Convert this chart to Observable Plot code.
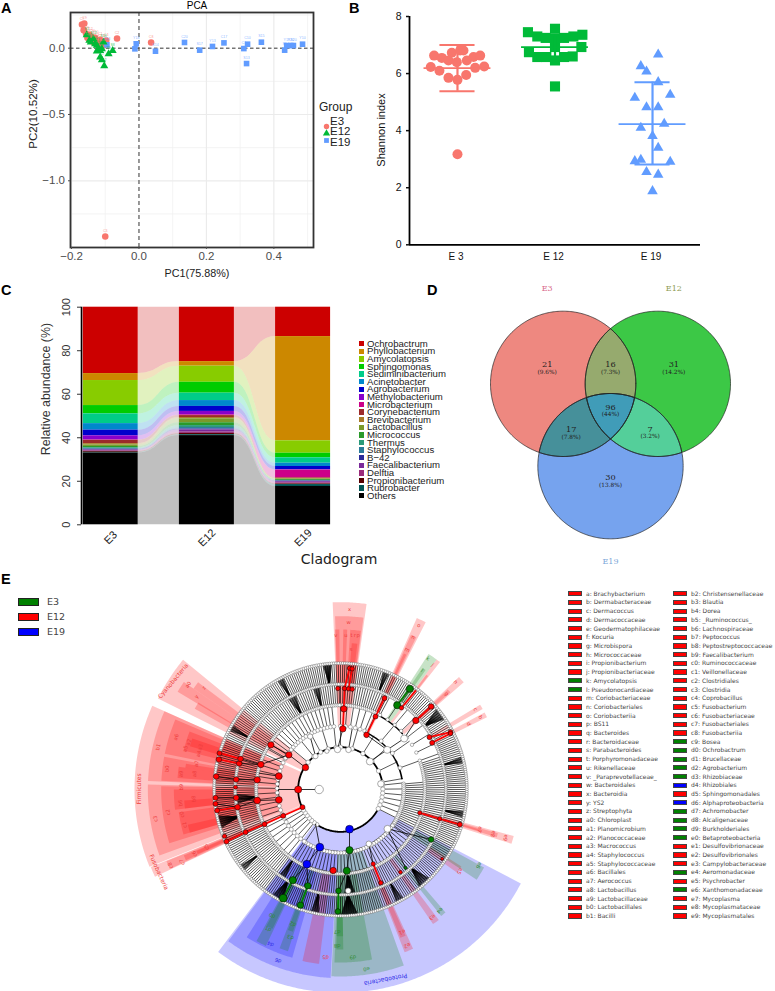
<!DOCTYPE html>
<html><head><meta charset="utf-8">
<script src="https://cdn.jsdelivr.net/npm/d3@7"></script>
<script src="https://cdn.jsdelivr.net/npm/@observablehq/plot@0.6"></script>
<style>
html,body{margin:0;padding:0;background:#fff}
#page{position:relative;width:775px;height:991px;overflow:hidden;background:#fff;font-family:"Liberation Sans",sans-serif}
#page svg{position:absolute;background:transparent;max-width:none}
.t{position:absolute;white-space:nowrap;line-height:1}
.s{position:absolute;box-sizing:border-box}
</style></head><body><div id="page"></div>
<script>
// ---------- Panel A: PCA ----------
const groupNames=["E3","E12","E19"];
const groupColors=["#f8766d","#00ba38","#619cff"];
const groupSymbols=["circle","triangle","square"];
const pcaE3X=[-.169,-.162,-.164,-.147,-.153,-.143,-.135,-.115,-.097,-.065,.036,-.100,-.125,-.118,-.110,-.147,-.105,-.157,-.140,-.130];
const pcaE3Y=[.178,.186,.136,.100,.078,.058,.045,.063,.058,.073,.043,-1.420,.058,.028,.045,.063,.020,.108,.083,.078];
const pcaE3L=["C7","C9","C11","C12","C13","C14","C15","C1","C4","C2","C8","C3","C5","C6","C16","C17","C18","C19","C20","C10"];
const pcaE12X=[-.155,-.143,-.130,-.125,-.120,-.115,-.110,-.103,-.090,-.078,-.110,-.135,-.125,-.115,-.147,-.105];
const pcaE12Y=[.100,.045,.033,-.023,-.005,-.068,-.088,-.133,-.043,-.018,-.005,.070,.020,-.018,.058,.045];
const pcaE12L=["S1","S2","S3","S4","S5","S6","S7","S2","S9","S8","S11","S12","S13","S14","S15","S16"];
const pcaE19X=[-.095,-.008,-.012,.049,.135,.180,.218,.252,.311,.322,.319,.363,.432,.438,.450,.458,.485];
const pcaE19Y=[.025,.033,-.005,-.023,.043,-.015,.013,.040,-.003,.030,-.116,.045,-.015,.020,.020,.020,.030];
const pcaE19L=["C18","Y18","Y9","S14","C20","S17","Y13","C17","C1","C10","S13","S15","S9","Y19","Y20","S20","Y10"];
// ---------- Panel B: Shannon index ----------
const categories=["E 3","E 12","E 19"];
const shE3Off=[-70,-47,-17,8,18,48,68,-27,-2,28,-80,-54,53,80,-27,0,26,0];
const shE3=[6.63,6.55,6.73,6.81,6.81,6.58,6.63,6.46,6.40,6.46,6.23,6.10,6.20,6.25,5.85,5.78,5.95,3.17];
const shE12Off=[-81,-53,-28,0,27,55,82,0,-78,-53,-26,0,27,53,79,0,0];
const shE12=[7.45,7.30,7.25,7.57,7.25,7.30,7.36,7.22,6.75,6.58,6.58,6.46,6.58,6.60,6.93,6.93,5.55];
const shE19Off=[17,-35,-18,17,-53,53,-18,17,-35,35,0,17,-53,-35,53,-18,17,0];
const shE19=[6.67,6.26,6.07,5.70,5.15,5.26,4.82,4.82,4.10,4.24,3.81,3.40,2.93,2.98,2.91,2.55,2.46,1.88];
const shMean=[6.19,6.93,4.23], shHigh=[7.0,7.34,5.70], shLow=[5.38,6.52,2.81];
// ---------- Panel C: relative abundance ----------
const samples=["E3","E12","E19"];
const genera=["Ochrobactrum","Phyllobacterium","Amycolatopsis","Sphingomonas","Sediminibacterium","Acinetobacter","Agrobacterium","Methylobacterium","Microbacterium","Corynebacterium","Brevibacterium","Lactobacillus","Micrococcus","Thermus","Staphylococcus","B−42","Faecalibacterium","Delftia","Propionibacterium","Rubrobacter","Others"];
const generaColors=["#cc0000","#cc8800","#88cc00","#00cc00","#00cc88","#0088cc","#0000cc","#8800cc","#cc0088","#9c2a2a","#a87a28","#7a9a2a","#2a9a2a","#2a9a7a","#2a7a9a","#2a2a9a","#7a2a9a","#9a2a7a","#550000","#005555","#000000"];
const abundE3=[30.5,3.2,11.5,3.8,4.5,3.0,2.6,1.9,.2,1.5,.6,.7,.6,.4,.3,.3,.4,.3,.4,.3,33.0];
const abundE12=[25,2.1,7.4,5,3.4,2.7,2.3,1.6,.3,.9,.6,1.8,1.3,.9,.7,.4,1.0,.6,.6,.4,41];
const abundE19=[13.5,47.9,5.7,2.1,2.5,1.5,1.5,.2,3.5,.3,.3,.2,.4,.2,.1,.3,.5,.5,.3,.9,17.6];
// ---------- Panel D: Venn ----------
const vennSets=["E3","E12","E19"];
const vennCounts=["21","16","31","96","17","7","30"];
const vennShares=["(9.6%)","(7.3%)","(14.2%)","(44%)","(7.8%)","(3.2%)","(13.8%)"];
// ---------- Panel E: cladogram legend ----------
const cladeLegendA=["a: Brachybacterium","b: Dermabacteraceae","c: Dermacoccus","d: Dermacoccaceae","e: Geodermatophilaceae","f: Kocuria","g: Microbispora","h: Micrococcaceae","i: Propionibacterium","j: Propionibacteriaceae","k: Amycolatopsis","l: Pseudonocardiaceae","m: Coriobacteriaceae","n: Coriobacteriales","o: Coriobacteriia","p: BS11","q: Bacteroides","r: Bacteroidaceae","s: Parabacteroides","t: Porphyromonadaceae","u: Rikenellaceae","v: _Paraprevotellaceae_","w: Bacteroidales","x: Bacteroidia","y: YS2","z: Streptophyta","a0: Chloroplast","a1: Planomicrobium","a2: Planococcaceae","a3: Macrococcus","a4: Staphylococcus","a5: Staphylococcaceae","a6: Bacillales","a7: Aerococcus","a8: Lactobacillus","a9: Lactobacillaceae","b0: Lactobacillales","b1: Bacilli"];
const cladeLegendB=["b2: Christensenellaceae","b3: Blautia","b4: Dorea","b5: _Ruminococcus_","b6: Lachnospiraceae","b7: Peptococcus","b8: Peptostreptococcaceae","b9: Faecalibacterium","c0: Ruminococcaceae","c1: Veillonellaceae","c2: Clostridiales","c3: Clostridia","c4: Coprobacillus","c5: Fusobacterium","c6: Fusobacteriaceae","c7: Fusobacteriales","c8: Fusobacteriia","c9: Bosea","d0: Ochrobactrum","d1: Brucellaceae","d2: Agrobacterium","d3: Rhizobiaceae","d4: Rhizobiales","d5: Sphingomonadales","d6: Alphaproteobacteria","d7: Achromobacter","d8: Alcaligenaceae","d9: Burkholderiales","e0: Betaproteobacteria","e1: Desulfovibrionaceae","e2: Desulfovibrionales","e3: Campylobacteraceae","e4: Aeromonadaceae","e5: Psychrobacter","e6: Xanthomonadaceae","e7: Mycoplasma","e8: Mycoplasmataceae","e9: Mycoplasmatales"];
const cladeGreen=new Set(["k","l","c9","d0","d1","d2","d3","d7","d8","d9","e0","e4","e6"]);
const cladeBlue=new Set(["d4","d6"]);
// wedges: name, angle from, angle to, inner radius, outer radius, class (g=green,r=red,b=blue)
const wedges=[
["Proteobacteria",117.5,217,127,610,"b"],["Alphaproteobacteria",183,216.5,190,566,"b"],["Rhizobiales",196,212.4,253,525,"b"],["Sphingomonadales",187,192.5,253,527,"r"],["Betaproteobacteria",160.2,182.8,190,561,"g"],["Burkholderiales",169.5,182,253,519,"g"],["d8",179,181.5,253,480,"g"],["d7",179,181.5,316,440,"g"],["d0",205.5,209,253,520,"g"],["d1",206,208.5,316,465,"g"],["d3",198,201,253,510,"g"],["d2",198.5,200.5,316,450,"g"],["e2",155.5,158.5,253,525,"r"],["e1",156,158,316,480,"r"],["e3",143,145.5,253,490,"r"],["e4",139.5,141.5,253,485,"g"],["e5",122.5,125.5,316,430,"r"],["e6",118.5,123.5,253,490,"g"],
["Firmicutes",248,294,127,618,"r"],["Bacilli",272.5,294,190,578,"r"],["Clostridia",250,271.5,190,578,"r"],["a6",281.5,293,253,538,"r"],["b0",272.8,280.5,253,538,"r"],["c2",252.6,271,253,538,"r"],["a5",284,291,316,485,"r"],["a3",286,289,379,470,"r"],["a9",274,278,316,490,"r"],["a7",278,279.5,316,470,"r"],["b6",263,270,316,500,"r"],["b8",263,266,379,470,"r"],["c0",254,262,316,490,"r"],["c1",254,257,379,470,"r"],
["Cyanobacteria",296.5,309.5,127,612,"r"],["a0",301,304.5,190,570,"r"],["z",304.5,307,253,535,"r"],["y",299,301.5,253,500,"r"],
["x",-2.4,8,190,562,"r"],["w",-1.8,7.6,253,520,"r"],["v",-2,-.4,316,480,"r"],["u",1,2.4,316,480,"r"],["t",3.5,7.3,316,480,"r"],["s",4.4,6.6,316,440,"r"],
["o",24,27,190,563,"r"],["n",24.5,26.5,253,510,"r"],["m",25,26,316,450,"r"],
["l",33,36.5,253,485,"g"],["k",34,35.5,316,440,"g"],["j",36.5,38,253,485,"r"],["i",36.8,37.7,316,430,"r"],
["h",46.5,49,253,490,"r"],["g",47,48.5,316,440,"r"],["d",58.7,60.5,316,490,"r"],["c",61.9,63.7,316,490,"r"],
["c8",244.8,247.8,127,615,"r"],["c7",245,247.6,190,565,"r"],["c6",245.4,247.2,253,510,"r"],["c5",245.7,246.9,316,470,"r"],
["e9",105,107.6,253,538,"r"],["e8",105.5,107,316,490,"r"],["e7",106,106.7,379,440,"r"]];
// wedge labels: text, x, y, rotation, class
const wedgeLabels=[["Firmicutes",57,595,-90,"r"],["Cyanobacteria",158,272,-50,"r"],["Fusobacteria",115,845,66,"r"],["Proteobacteria",795,1167,169,"b"],
["x",687,55,0,"r"],["w",684,95,0,"r"],["v",646,133,0,"r"],["u",676,133,0,"r"],["t",693,133,0,"r"],["r",703,133,0,"r"],["p",713,133,0,"r"],["s",692,175,0,"r"],
["o",895,105,25,"r"],["n",878,140,25,"r"],["m",860,178,25,"r"],["l",905,240,35,"g"],["k",922,205,35,"g"],["j",937,222,37,"r"],["h",1005,275,47,"r"],["g",978,310,47,"r"],["c",1065,357,60,"r"],["b",1080,380,62,"r"],["d",1045,400,62,"r"],
["e9",1155,742,106,"r"],["e8",1118,730,106,"r"],["e7",1078,717,106,"r"],["e6",1075,825,120,"g"],["e5",1018,842,124,"r"],["e4",958,960,141,"g"],["e3",935,980,144,"r"],["e2",860,1065,157,"r"],["e1",845,1025,157,"r"],
["e0",738,1135,172,"g"],["d9",697,1100,175,"g"],["d8",650,1065,180,"g"],["d7",650,1025,180,"g"],["d5",615,1100,185,"r"],["d6",473,1110,200,"b"],["d4",450,1060,205,"b"],["d3",510,1040,200,"g"],["d2",517,1000,200,"g"],["d1",443,1015,207,"g"],["d0",455,975,207,"g"],
["b1",113,470,285,"r"],["b0",140,535,276,"r"],["c3",105,685,260,"r"],["c2",143,665,262,"r"],["a6",167,440,288,"r"],["a9",182,550,274,"r"],["a8",222,550,274,"r"],["a7",228,520,278,"r"],["b9",182,590,270,"r"],["b6",180,638,265,"r"],["b8",220,625,265,"r"],["c0",185,672,262,"r"],["c1",193,703,258,"r"],["c5",258,770,247,"r"],["c6",222,790,247,"r"],["c7",185,815,247,"r"],["c8",150,825,247,"r"],["a5",195,475,285,"r"],["a2",205,455,285,"r"],["a3",240,470,285,"r"],["a4",235,490,285,"r"],["a0",203,283,305,"r"],["y",228,318,305,"r"],["z",250,292,305,"r"]];
// enriched clades: x, y, size, class
const cladeNodes=[[533,597,3.6,"r"],[475,557,3.4,"r"],[475,628,3.4,"r"],[410,568,3.2,"r"],[410,630,3.4,"r"],[421,522,3.2,"r"],[505,493,3.2,"r"],[555,531,3.2,"r"],[451,463,3.2,"r"],[347,567,2.8,"r"],[347,622,2.8,"r"],[351,650,2.8,"r"],[345,590,2,"r"],[356,519,2.8,"r"],[360,505,2.8,"r"],[295,507,2.8,"r"],[297,488,2.5,"r"],[287,558,2.8,"r"],[285,622,2.5,"r"],[285,640,2.5,"r"],[290,660,2.5,"r"],[546,650,2.5,"r"],[488,676,2.5,"r"],[432,701,2.5,"r"],[375,725,2.5,"r"],[318,753,2.5,"r"],[312,737,2.2,"r"],[667,415,3.2,"r"],[670,355,3.2,"r"],[652,294,2.2,"r"],[672,294,2.2,"r"],[684,295,2.2,"r"],[695,296,2.2,"r"],[687,233,2.2,"r"],[695,235,2.2,"r"],[738,433,2.8,"r"],[765,378,2.5,"r"],[792,323,2.5,"r"],[843,352,2.2,"r"],[886,390,3.2,"r"],[932,348,2.8,"r"],[927,440,2.5,"r"],[990,425,2.5,"r"],[935,457,2.5,"r"],[990,429,2.2,"r"],[898,667,2.2,"r"],[958,685,2.2,"r"],[1018,702,2.5,"r"],[758,820,2.2,"r"],[781,877,2.2,"r"],[840,845,1.8,"r"],[965,805,1.5,"r"],[638,840,3.2,"r"],
[830,344,3.6,"g"],[868,295,3.6,"g"],[687,779,3.6,"g"],[679,841,3.6,"g"],[654,901,2.8,"g"],[652,963,2.8,"g"],[517,869,3.6,"g"],[488,923,3.9,"g"],[562,886,3.2,"g"],[540,944,3.2,"g"],[932,747,2.8,"g"],[855,832,1.6,"g"],
[687,716,3.9,"b"],[598,770,3.9,"b"],[559,821,3.9,"b"]];
const plainNodes=[[596,597,4.2],[651,477,3.2],[684,478,2.8],[748,513,3.5],[800,478,3.5],[851,444,3.5],[781,580,3.2],[801,715,3.5],[745,760,2.8],[683,901,2.8],[569,438,2.6],[585,497,2.6],[619,482,2.2]];
// coloured and thin branches: x1, y1, x2, y2, class
const cladeLinks=[[546,650,488,676,"r"],[488,676,432,701,"r"],[432,701,375,725,"r"],[375,725,318,753,"r"],[667,415,670,355,"r"],[670,355,672,294,"r"],[672,294,687,233,"r"],[684,295,695,235,"r"],[738,433,765,378,"r"],[765,378,792,323,"r"],[898,667,958,685,"r"],[958,685,1018,702,"r"],[758,820,781,877,"r"],[843,352,886,300,"r"],[886,390,932,348,"r"],[927,440,990,425,"r"],[935,457,990,429,"r"],[356,519,295,507,"r"],[360,505,297,488,"r"],[351,650,290,660,"r"],[830,344,868,295,"g"],[654,901,652,963,"g"],[517,869,488,923,"g"],[562,886,540,944,"g"],
[596,597,533,597,"k"],[534,597,473,597,"k"],[475,557,415,548,"k"],[475,628,411,630,"k"],[421,522,505,493,"k"],[505,493,555,531,"k"],[451,463,505,493,"k"],[410,568,345,567,"k"],[410,630,347,622,"k"],[410,630,351,650,"k"],[421,522,356,519,"k"],[421,522,360,505,"k"],[347,567,287,558,"k"],[347,622,285,622,"k"],[351,650,285,640,"k"],[687,716,687,779,"k"],[598,770,559,821,"k"],[687,779,679,841,"k"],[679,841,654,901,"k"],[559,821,517,869,"k"],[559,821,562,886,"k"],[745,760,758,820,"k"],[801,715,855,832,"k"],[801,715,932,747,"k"],[598,770,585,700,"k"],[748,513,800,478,"k"],[800,478,851,444,"k"],[851,444,886,390,"k"],[800,478,738,433,"k"],[651,477,667,415,"k"],[684,478,695,415,"k"],[585,497,569,438,"k"]];
// heavy ring arcs: ring radius, angle from, angle to, width
const cladeArcs=[[127,245,405,1.8],[127,405,440,1.8],[127,119,214,1.8],[187,263,282,1.6],[187,62,80,1.6],[187,25,62,1.4],[187,160,200,1.8],[187,120,150,1.8],[250,160,205,1.8],[250,28,48,1.4]];
// background branches per ring band: angle from, angle to, spacing
const bandOuter=[[0,360,1]];
const bandMiddle=[[0,28,1.4],[28,72,6],[72,360,1.3]];
const bandInner=[[0,25,4.5],[25,85,15],[85,125,1.7],[125,215,2.6],[215,300,4],[300,355,3]];
const bandCore=[[84,118,5.5],[214,245,4.5],[310,360,11],[0,84,16]];
// crowded sister clades, drawn as fans from one parent: angle from, angle to, spacing
const fansOuter=[[352,356,.3],[50,56,.35],[172,180,.3],[252,258,.35],[135,141,.35],[207,213,.35],[298,301,.4],[150,154,.4],[190,194,.4],[20,23,.4],[330,333,.4],[75,78,.4],[100,103,.4],[230,233,.4]];
const fansMiddle=[[172,178,.35],[212,216,.4],[330,335,.5],[345,349,.5],[262,268,.5]];

// ---------- helpers ----------
const page=document.getElementById("page");
function put(svg,left,top){svg.style.left=left+"px";svg.style.top=top+"px";page.append(svg);}
function note(text,x,y,o={}){const d=document.createElement("div");d.className="t";d.textContent=text;
  d.style.cssText=`left:${x}px;top:${y}px;font-size:${o.size||11}px;color:${o.color||"#000"};font-family:${o.family||"'Liberation Sans',sans-serif"};font-weight:${o.weight||400};transform:translate(${o.ax??-50}%,-50%) rotate(${o.rotate||0}deg)`;
  page.append(d);}
function swatch(x,y,w,h,fill,stroke){const d=document.createElement("div");d.className="s";
  d.style.cssText=`left:${x}px;top:${y}px;width:${w}px;height:${h}px;background:${fill};${stroke?`border:1px solid ${stroke}`:""}`;page.append(d);}
const sans={fontFamily:"Liberation Sans",background:"transparent"};

// ---------- A ----------
const pcaRows=[[pcaE3X,pcaE3Y,pcaE3L,0],[pcaE12X,pcaE12Y,pcaE12L,1],[pcaE19X,pcaE19Y,pcaE19L,2]].flatMap(([X,Y,L,g])=>X.map((x,i)=>({x,y:Y[i],label:L[i],g})));
put(Plot.plot({width:360,height:280,marginLeft:70,marginRight:47,marginTop:12,marginBottom:33,style:sans,
  x:{domain:[-.203,.5175],label:null},y:{domain:[-1.503,.269],label:null},
  marks:[
    Plot.ruleX([-.1,.1,.3,.5],{stroke:"#f0f0f0",strokeWidth:.8}),
    Plot.ruleY([-.25,-.75,-1.25,.25],{stroke:"#f0f0f0",strokeWidth:.8}),
    Plot.ruleX([-.2,.2,.4],{stroke:"#ebebeb",strokeWidth:1.2}),
    Plot.ruleY([-.5,-1],{stroke:"#ebebeb",strokeWidth:1.2}),
    Plot.ruleX([0],{stroke:"#777",strokeWidth:1.5,strokeDasharray:"4 3"}),
    Plot.ruleY([0],{stroke:"#333",strokeWidth:1,strokeDasharray:"3.5 2.5"}),
    Plot.dot(pcaRows,{x:"x",y:"y",r:d=>d.g==1?2.7:d.g==2?3:3.2,symbol:d=>groupSymbols[d.g],fill:d=>groupColors[d.g],stroke:"none"}),
    Plot.text(pcaRows,{x:"x",y:"y",text:"label",dy:-6,fontSize:3.6,fill:d=>groupColors[d.g],fillOpacity:.75}),
    Plot.frame({stroke:"#333",strokeWidth:1.8}),
    Plot.axisX({ticks:[-.2,0,.2,.4],tickFormat:".1f",fontSize:11.5,color:"#4d4d4d",tickSize:2,tickPadding:2,label:null}),
    Plot.axisY({ticks:[0,-.5,-1],tickFormat:".1f",fontSize:11.5,color:"#4d4d4d",tickSize:2,tickPadding:3.5,label:null})
  ]}),0,0);
note("PCA",197,6,{size:10});
note("PC1(75.88%)",197,273,{size:10.8,color:"#222"});
note("PC2(10.52%)",33,114,{size:11.6,rotate:-90,color:"#222"});
note("Group",319,107,{size:12,ax:0,color:"#222"});
groupNames.forEach((g,i)=>note(g,330,[122,132,143][i],{size:11.5,ax:0,color:"#222"}));
put(Plot.plot({width:14,height:40,margin:0,style:sans,x:{axis:null},y:{type:"point",domain:groupNames,range:[7,28],axis:null},
  marks:[Plot.dot(groupNames,{y:d=>d,symbol:(d,i)=>groupSymbols[i],fill:(d,i)=>groupColors[i],r:2.7})]}),319,115);

// ---------- B ----------
const shRows=[[shE3,shE3Off,0],[shE12,shE12Off,1],[shE19,shE19Off,2]].flatMap(([V,O,g])=>V.map((v,i)=>({x:g+O[i]/292,v,g})));
const idx=[0,1,2];
const shCap=.18, shWide=.343;
put(Plot.plot({width:340,height:280,marginLeft:49,marginRight:0,marginTop:16,marginBottom:35.7,style:sans,
  x:{domain:[-.492,2.492],label:null},y:{domain:[0,8],label:null},
  marks:[
    Plot.dot(shRows.filter(d=>d.g==0),{x:"x",y:"v",r:5,fill:groupColors[0]}),
    Plot.dot(shRows.filter(d=>d.g==1),{x:"x",y:"v",r:5.7,symbol:"square",fill:groupColors[1]}),
    Plot.dot(shRows.filter(d=>d.g==2),{x:"x",y:"v",r:3.9,symbol:"triangle",fill:groupColors[2]}),
    Plot.ruleX(idx,{x:d=>d,y1:i=>shLow[i],y2:i=>shHigh[i],stroke:i=>groupColors[i],strokeWidth:2.2}),
    Plot.ruleY(idx,{y:i=>shMean[i],x1:i=>i-shWide,x2:i=>i+shWide,stroke:i=>groupColors[i],strokeWidth:1.8}),
    Plot.ruleY(idx,{y:i=>shHigh[i],x1:i=>i-shCap,x2:i=>i+shCap,stroke:i=>groupColors[i],strokeWidth:2}),
    Plot.ruleY(idx,{y:i=>shLow[i],x1:i=>i-shCap,x2:i=>i+shCap,stroke:i=>groupColors[i],strokeWidth:2}),
    Plot.ruleY([0],{stroke:"#000",strokeWidth:1.8}),
    Plot.ruleX([-.492],{stroke:"#000",strokeWidth:1.8}),
    Plot.axisY({ticks:[0,2,4,6,8],fontSize:10.5,color:"#111",tickSize:3,tickPadding:5,strokeWidth:1.5,label:null,tickFormat:d=>d}),
    Plot.axisX({ticks:idx,tickFormat:i=>categories[i],fontSize:10,color:"#111",tickSize:0,tickPadding:8,label:null,dx:-1.5})
  ]}),360,0);
note("Shannon index",381,130,{size:11,rotate:-90,color:"#111"});

// ---------- C ----------
const sampleAbund=[abundE3,abundE12,abundE19];
const stacks=sampleAbund.map(a=>{let top=100;return a.map((v,j)=>{const o={j,y2:top,y1:top-v};top-=v;return o;});});
const half=.286;
const barRows=stacks.flatMap((s,i)=>s.map(o=>({...o,i})));
const flowRows=[0,1].flatMap(i=>genera.flatMap((g,j)=>[
  {id:i+"-"+j,j,x:i+half,y1:stacks[i][j].y1,y2:stacks[i][j].y2},
  {id:i+"-"+j,j,x:i+1-half,y1:stacks[i+1][j].y1,y2:stacks[i+1][j].y2}]));
put(Plot.plot({width:360,height:280,marginLeft:81,marginRight:30,marginTop:26.7,marginBottom:35.7,style:sans,
  x:{domain:[-.3035,2.285],label:null,axis:null},y:{domain:[0,100],label:null},
  marks:[
    Plot.areaY(flowRows,{x:"x",y1:"y1",y2:"y2",z:"id",fill:d=>generaColors[d.j],fillOpacity:.25,curve:"bump-x"}),
    Plot.rect(barRows,{x1:d=>d.i-half,x2:d=>d.i+half,y1:"y1",y2:"y2",fill:d=>generaColors[d.j]}),
    Plot.ruleX([-.3035],{y1:0,y2:100,stroke:"#000",strokeWidth:1.6}),
    Plot.axisY({ticks:[0,20,40,60,80,100],fontSize:11,color:"#333",tickSize:4,tickPadding:8,tickRotate:-90,label:null}),
    Plot.text(idx,{x:d=>d,y:()=>0,text:i=>samples[i],rotate:-45,dy:13,fontSize:11,fill:"#222"})
  ]}),0,280);
note("Relative abundance (%)",46,389,{size:12.4,rotate:-90,color:"#333"});
note("Cladogram",339,559,{size:14,family:"'DejaVu Sans'",color:"#222"});
genera.forEach((g,i)=>{const y=343.7+i*7.6;swatch(358.5,y-2.7,5.4,5.4,generaColors[i]);note(g,367,y,{size:9.6,ax:0,color:"#222"});});

// ---------- D ----------
const vennX=[278,562,420],vennY=[310,310,557],vennR=218;
function lens(members,id,fill){
  const px=d3.mean(members,m=>vennX[m]),py=d3.mean(members,m=>vennY[m]);
  return d3.range(0,360,1).map(a=>{const ux=Math.cos(a*Math.PI/180),uy=Math.sin(a*Math.PI/180);
    const t=d3.min(members,m=>{const dx=px-vennX[m],dy=py-vennY[m],b=ux*dx+uy*dy;return -b+Math.sqrt(b*b-dx*dx-dy*dy+vennR*vennR);});
    return {id,fill,x:px+t*ux,y:py+t*uy};});
}
const vennRegions=[lens([0],"a","#ee8880"),lens([1],"b","#3cc846"),lens([2],"c","#76a3ee"),lens([0,1],"ab","#96aa6e"),lens([0,2],"ac","#46909a"),lens([1,2],"bc","#54cf9a"),lens([0,1,2],"abc","#409cb8")].flat();
const vennOutlines=[lens([0],"a1"),lens([1],"b1"),lens([2],"c1"),lens([0,1],"d1"),lens([0,2],"e1"),lens([1,2],"f1")].flat();
const vennPosX=[230,420,610,420,302,539,420],vennPosY=[252,252,252,380,447,446,592];
put(Plot.plot({width:305,height:300,margin:0,style:{...sans,fontFamily:"DejaVu Serif"},
  x:{domain:[0,915],axis:null},y:{domain:[900,0],axis:null},
  marks:[
    Plot.line(vennRegions,{x:"x",y:"y",z:"id",fill:"fill",stroke:"none",curve:"linear-closed"}),
    Plot.line(vennOutlines,{x:"x",y:"y",z:"id",stroke:"#222",strokeWidth:.7,curve:"linear-closed"}),
    Plot.text(vennCounts,{x:(d,i)=>vennPosX[i],y:(d,i)=>vennPosY[i],text:d=>d,fontSize:8.2,fill:"#222"}),
    Plot.text(vennShares,{x:(d,i)=>vennPosX[i],y:(d,i)=>vennPosY[i]+22,text:d=>d,fontSize:5.8,fill:"#222"}),
    Plot.text(vennSets,{x:[230,610,420],y:[23,23,843],text:d=>d,fontSize:8,fill:(d,i)=>["#d8688a","#8c9a50","#7aa6d8"][i]})
  ]}),470,280);

// ---------- E ----------
const cx=660,cy=597,rad=Math.PI/180;
const px=(r,a)=>cx+r*Math.sin(a*rad),py=(r,a)=>cy-r*Math.cos(a*rad);
const classColor={r:"#ff0000",g:"#008000",b:"#0000ff",k:"#000"};
const labelColor={r:"#ee3b3b",g:"#2e8b2e",b:"#2f2fe8"};
const sectorRows=wedges.flatMap(([n,a0,a1,r0,r1,c],k)=>{
  const outer=d3.range(a0,a1,.5).concat(a1);
  return [...outer.map(a=>({k,c,x:px(r1,a),y:py(r1,a)})),...outer.slice().reverse().map(a=>({k,c,x:px(r0,a),y:py(r0,a)}))];});
function expand(spans){return spans.flatMap(([a0,a1,s])=>d3.range(a0,a1,s));}
const radial=(spans,r0,r1)=>expand(spans).map(a=>({x1:px(r0,a),y1:py(r0,a),x2:px(r1,a),y2:py(r1,a)}));
const fan=(spans,r0,r1)=>spans.flatMap(([a0,a1,s])=>d3.range(a0,a1,s).map(a=>({x1:px(r0,(a0+a1)/2),y1:py(r0,(a0+a1)/2),x2:px(r1,a),y2:py(r1,a)})));
const ringDots=(spans,r,s)=>expand(spans).map(a=>({x:px(r,a),y:py(r,a),s}));
const arcRows=(rows)=>rows.flatMap(([r,a0,a1,w],k)=>d3.range(a0,a1,1).concat(a1).map(a=>({k,w,x:px(r,a),y:py(r,a)})));
const thinArcs=[[379,0,360,.4],[316,0,360,.7],[253,72,388,.7]];
const bgLinks=[...radial(bandOuter,316,379),...radial(bandMiddle,253,316),...radial(bandInner,190,253),...radial(bandCore,127,190),...fan(fansOuter,316,379),...fan(fansMiddle,253,316)];
const bgDots=[...ringDots(bandOuter,379,1.5),...ringDots(bandOuter,316,1.5),...ringDots(bandMiddle,253,1.7),...ringDots(bandInner,190,2),...ringDots(bandCore,127,2.2)];
put(Plot.plot({width:420,height:401,margin:0,style:sans,
  x:{domain:[0,1260],axis:null},y:{domain:[1203,0],axis:null},r:{type:"identity"},
  marks:[
    Plot.line(sectorRows,{x:"x",y:"y",z:"k",fill:d=>classColor[d.c],fillOpacity:.22,stroke:"none",curve:"linear-closed"}),
    Plot.line(arcRows(thinArcs),{x:"x",y:"y",z:"k",stroke:"#000",strokeWidth:"w"}),
    Plot.link(bgLinks,{x1:"x1",y1:"y1",x2:"x2",y2:"y2",stroke:"#000",strokeWidth:.65}),
    Plot.line(arcRows(cladeArcs),{x:"x",y:"y",z:"k",stroke:"#000",strokeWidth:"w"}),
    Plot.dot(bgDots,{x:"x",y:"y",r:"s",fill:"#fff",stroke:"#666",strokeWidth:.5}),
    Plot.link(cladeLinks.filter(d=>d[4]=="k"),{x1:d=>d[0],y1:d=>d[1],x2:d=>d[2],y2:d=>d[3],stroke:"#000",strokeWidth:.8}),
    Plot.link(cladeLinks.filter(d=>d[4]!="k"),{x1:d=>d[0],y1:d=>d[1],x2:d=>d[2],y2:d=>d[3],stroke:d=>classColor[d[4]],strokeWidth:1.7}),
    Plot.dot(plainNodes,{x:d=>d[0],y:d=>d[1],r:d=>d[2],fill:"#fff",stroke:"#555",strokeWidth:.5}),
    Plot.dot(cladeNodes,{x:d=>d[0],y:d=>d[1],r:d=>d[2],fill:d=>classColor[d[3]],stroke:"#000",strokeWidth:.5}),
    Plot.text(wedgeLabels,{x:d=>d[1],y:d=>d[2],text:d=>d[0],rotate:d=>d[3],fontSize:d=>d[0].length>3?6:5.2,fill:d=>labelColor[d[4]],fontFamily:"DejaVu Sans"})
  ]}),120,590);
["#008000","#ff0000","#0000ff"].forEach((c,i)=>{swatch(18,598+i*15,21,8,c,"#222");note(groupNames[i],47,602+i*15,{size:9.5,ax:0,family:"'DejaVu Sans'",color:"#444"});});
const keyColor=s=>{const k=s.split(":")[0];return cladeGreen.has(k)?"#008000":cladeBlue.has(k)?"#0000ff":"#ff0000";};
[[cladeLegendA,568,586],[cladeLegendB,673,691]].forEach(([names,sx,tx])=>names.forEach((s,i)=>{const y=593.7+i*8.71;
  swatch(sx,y-2.6,14,5.2,keyColor(s),"#444");note(s,tx,y,{size:6,ax:0,family:"'DejaVu Sans'",color:"#444"});}));

// ---------- panel letters ----------
[["A",1,8],["B",349,8],["C",1,290],["D",427,290],["E",1,579]].forEach(([t,x,y])=>note(t,x,y,{size:14.5,weight:700,ax:0}));
</script></body></html>
